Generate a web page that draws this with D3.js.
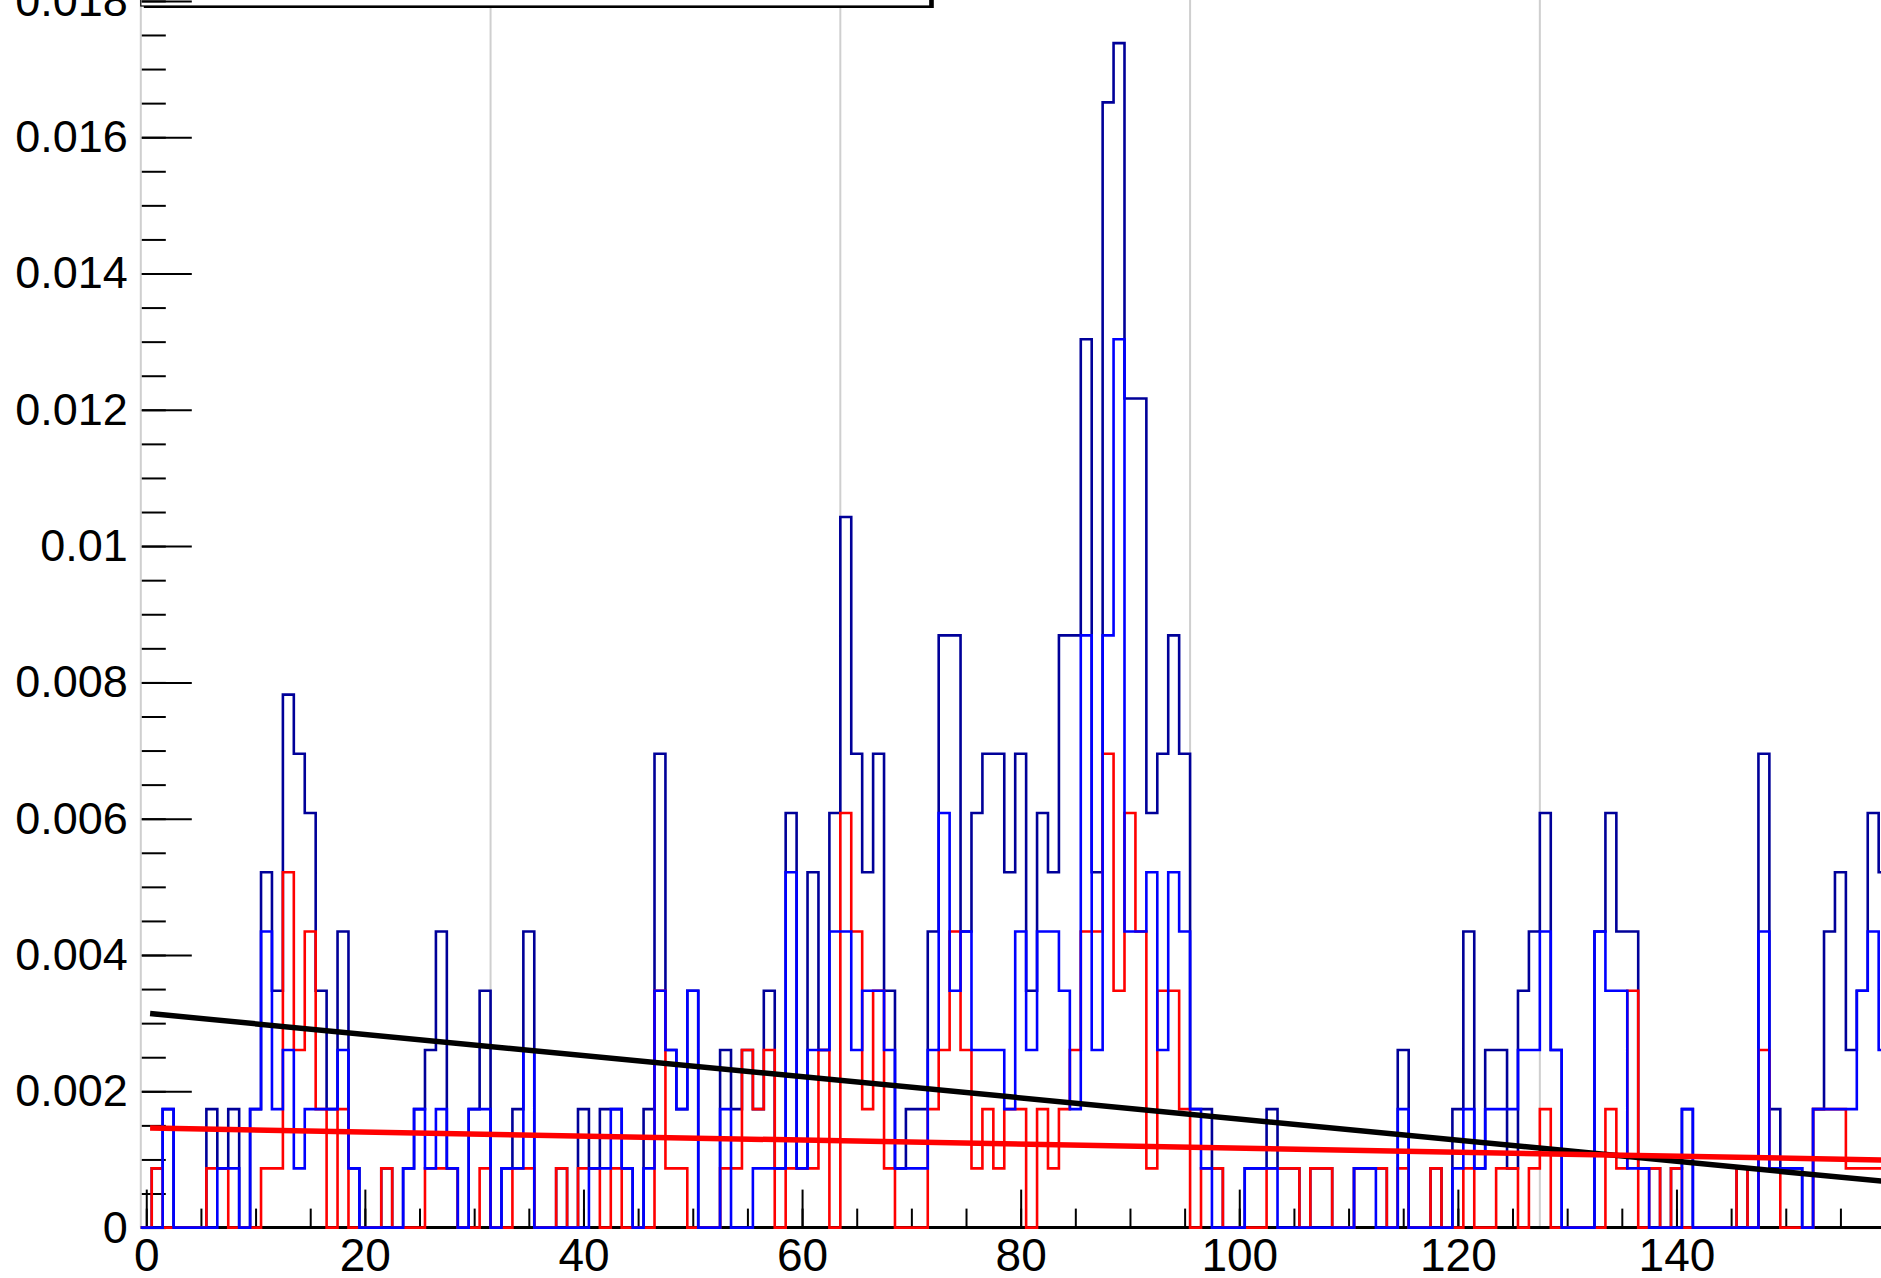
<!DOCTYPE html>
<html>
<head>
<meta charset="utf-8">
<script src="https://cdn.jsdelivr.net/npm/d3@7"></script>
<style>
  body { margin: 0; background: #fff; }
  svg { display: block; }
  text { font-family: "Liberation Sans", Arial, Helvetica, sans-serif; }
</style>
</head>
<body>
<div id="chart"></div>
<script>
// entries per bin, bins centred on 0, 1, 2 ... 159
const navyCounts = [
  0,1,2,0,0,0,2,1,2,0, 2,6,4,9,8,7,4,2,5,1, 0,0,1,0,1,2,3,5,1,0, 2,4,0,1,2,5,0,0,1,0,
  2,1,2,2,1,0,2,8,3,2, 4,0,0,3,2,3,2,4,1,7, 1,6,3,7,12,8,6,8,4,1, 2,2,5,10,10,5,7,8,8,6,
  8,4,7,6,10,10,15,6,19,20, 14,14,7,8,10,8,2,2,1,0, 0,1,1,2,1,1,0,1,1,0, 0,1,1,1,0,3,0,0,1,0,
  2,5,1,3,3,1,4,5,7,3, 0,0,0,5,7,5,5,1,1,0, 1,2,0,0,0,0,1,0,8,2, 1,1,0,2,5,6,3,4,7,6
];
const blueCounts = [
  0,0,2,0,0,0,0,1,1,0, 2,5,2,3,1,2,2,2,3,1, 0,0,0,0,1,2,1,2,1,0, 2,2,0,1,1,3,0,0,0,0,
  0,1,1,2,1,0,1,4,3,2, 4,0,0,2,0,0,1,1,1,6, 1,3,3,5,5,3,4,4,3,1, 1,1,3,7,4,5,3,3,3,2,
  5,3,5,5,4,2,10,3,10,15, 5,5,6,3,6,5,2,1,0,0, 0,1,1,1,0,0,0,0,0,0, 0,1,1,0,0,2,0,0,0,0,
  1,2,1,2,2,2,3,3,5,3, 0,0,0,5,4,4,1,1,0,0, 0,2,0,0,0,0,0,0,5,1, 1,1,0,2,2,2,2,4,5,3
];
const redCounts = [
  0,1,0,0,0,0,1,1,0,0, 0,1,1,6,3,5,2,0,2,0, 0,0,1,0,0,0,1,1,1,0, 0,1,0,0,1,1,0,0,1,0,
  1,1,0,1,0,0,0,4,1,1, 0,0,0,1,1,3,2,3,0,1, 1,1,3,0,7,5,2,4,1,0, 0,0,2,3,5,3,1,2,1,2,
  2,0,2,1,2,3,5,5,8,4, 7,5,1,4,4,2,0,1,1,0, 0,0,0,1,1,1,0,1,1,0, 0,1,1,1,0,1,0,0,1,0,
  0,1,0,0,1,1,0,1,2,0, 0,0,0,0,2,1,4,0,1,0, 1,0,0,0,0,0,1,0,3,1, 0,0,0,2,2,2,1,1,1,1
];
// height of one entry after normalisation
const binWeight = 0.000869;

// straight-line fits, [x, y] at both ends of the fit range
const fitBlack = [[0.35, 0.00314], [159.5, 0.00067]];
const fitRed = [[0.35, 0.00146], [159.5, 0.00099]];

const xTickLabels = [0, 20, 40, 60, 80, 100, 120, 140];
const xMinorTicks = d3.range(0, 161, 5);
const yTickLabels = [0, 0.002, 0.004, 0.006, 0.008, 0.01, 0.012, 0.014, 0.016, 0.018];
const yMinorTicks = d3.range(0, 0.0186, 0.0005);
const gridX = [-0.5, 31.5, 63.5, 95.5, 127.5, 159.5];

class StepPlot {
  constructor(_config) {
    this.config = {
      parentElement: _config.parentElement,
      containerWidth: 1881,
      containerHeight: 1278,
      frame: { left: 140.8, bottom: 1227.6 },
      unitPx: 10.93,
      yPxPerUnit: 136.3 / 0.002,
      lineWidth: 2.6,
      fitWidth: 5.5
    };
    this.initVis();
  }

  initVis() {
    let vis = this;
    const c = vis.config;

    vis.svg = d3.select(c.parentElement).append("svg")
      .attr("width", c.containerWidth)
      .attr("height", c.containerHeight);

    vis.svg.append("rect")
      .attr("width", c.containerWidth)
      .attr("height", c.containerHeight)
      .attr("fill", "#fff");

    vis.xScale = d3.scaleLinear()
      .domain([-0.5, 159.5])
      .range([c.frame.left, c.frame.left + 160 * c.unitPx]);

    vis.yScale = d3.scaleLinear()
      .domain([0, 0.02])
      .range([c.frame.bottom, c.frame.bottom - 0.02 * c.yPxPerUnit]);

    vis.renderVis();
  }

  renderVis() {
    let vis = this;
    const c = vis.config;
    const x = vis.xScale, y = vis.yScale;

    // grid
    vis.svg.append("g")
      .selectAll("line")
      .data(gridX)
      .join("line")
        .attr("x1", d => x(d)).attr("x2", d => x(d))
        .attr("y1", y(0)).attr("y2", 0)
        .attr("stroke", "#cfcfcf")
        .attr("stroke-width", 2);

    // legend box (mostly above the visible area)
    vis.svg.append("rect")
      .attr("x", x(-0.5) + 3).attr("y", -60)
      .attr("width", 790).attr("height", 68)
      .attr("fill", "#000");
    vis.svg.append("rect")
      .attr("x", x(-0.5)).attr("y", -60)
      .attr("width", 789).attr("height", 66)
      .attr("fill", "#fff")
      .attr("stroke", "#000")
      .attr("stroke-width", 1.2);

    // y axis: minor then major ticks, pointing into the frame
    const yMinor = d3.axisLeft(y)
      .tickValues(yMinorTicks)
      .tickSizeInner(-24)
      .tickSizeOuter(0)
      .tickFormat("");
    const yMajor = d3.axisLeft(y)
      .tickValues(yTickLabels)
      .tickSizeInner(-50)
      .tickSizeOuter(0)
      .tickPadding(14)
      .tickFormat(d => String(+d.toFixed(3)));

    [yMinor, yMajor].forEach(ax => {
      const g = vis.svg.append("g")
        .attr("transform", `translate(${x(-0.5) + 1},0)`)
        .call(ax);
      g.select(".domain").remove();
      g.selectAll("line").attr("stroke", "#000").attr("stroke-width", 2);
      g.selectAll("text")
        .attr("fill", "#000")
        .style("font-size", "45px");
    });

    // x axis
    const xMinor = d3.axisBottom(x)
      .tickValues(xMinorTicks)
      .tickSizeInner(-19)
      .tickSizeOuter(0)
      .tickFormat("");
    const xMajor = d3.axisBottom(x)
      .tickValues(xTickLabels)
      .tickSizeInner(-38)
      .tickSizeOuter(0)
      .tickPadding(11)
      .tickFormat(d3.format("d"));

    [xMinor, xMajor].forEach(ax => {
      const g = vis.svg.append("g")
        .attr("transform", `translate(0,${y(0)})`)
        .call(ax);
      g.select(".domain").remove();
      g.selectAll("line").attr("stroke", "#000").attr("stroke-width", 2);
      g.selectAll("text")
        .attr("fill", "#000")
        .style("font-size", "46px");
    });

    vis.svg.append("line")
      .attr("x1", x(-0.5)).attr("x2", c.containerWidth)
      .attr("y1", y(0)).attr("y2", y(0))
      .attr("stroke", "#000")
      .attr("stroke-width", 3);

    // histograms, drawn as outlines
    const step = d3.line()
      .x(d => x(d[0]))
      .y(d => y(d[1]))
      .curve(d3.curveStepAfter);

    const toSteps = counts => {
      let pts = [[-0.5, 0]];
      counts.forEach((n, i) => pts.push([i - 0.5, n * binWeight]));
      pts.push([counts.length - 0.5, counts[counts.length - 1] * binWeight]);
      return pts;
    };

    const series = [
      { counts: navyCounts, color: "#000099" },
      { counts: redCounts, color: "#ff0000" },
      { counts: blueCounts, color: "#0000ff" }
    ];

    vis.svg.append("g")
      .selectAll("path")
      .data(series)
      .join("path")
        .attr("d", d => step(toSteps(d.counts)))
        .attr("fill", "none")
        .attr("stroke", d => d.color)
        .attr("stroke-width", c.lineWidth)
        .attr("stroke-linejoin", "miter");

    // fits
    const fitLine = d3.line()
      .x(d => x(d[0]))
      .y(d => y(d[1]));

    vis.svg.append("g")
      .selectAll("path")
      .data([{ pts: fitBlack, color: "#000" }, { pts: fitRed, color: "#ff0000" }])
      .join("path")
        .attr("d", d => fitLine(d.pts))
        .attr("fill", "none")
        .attr("stroke", d => d.color)
        .attr("stroke-width", c.fitWidth);
  }
}

new StepPlot({ parentElement: "#chart" });
</script>
</body>
</html>
